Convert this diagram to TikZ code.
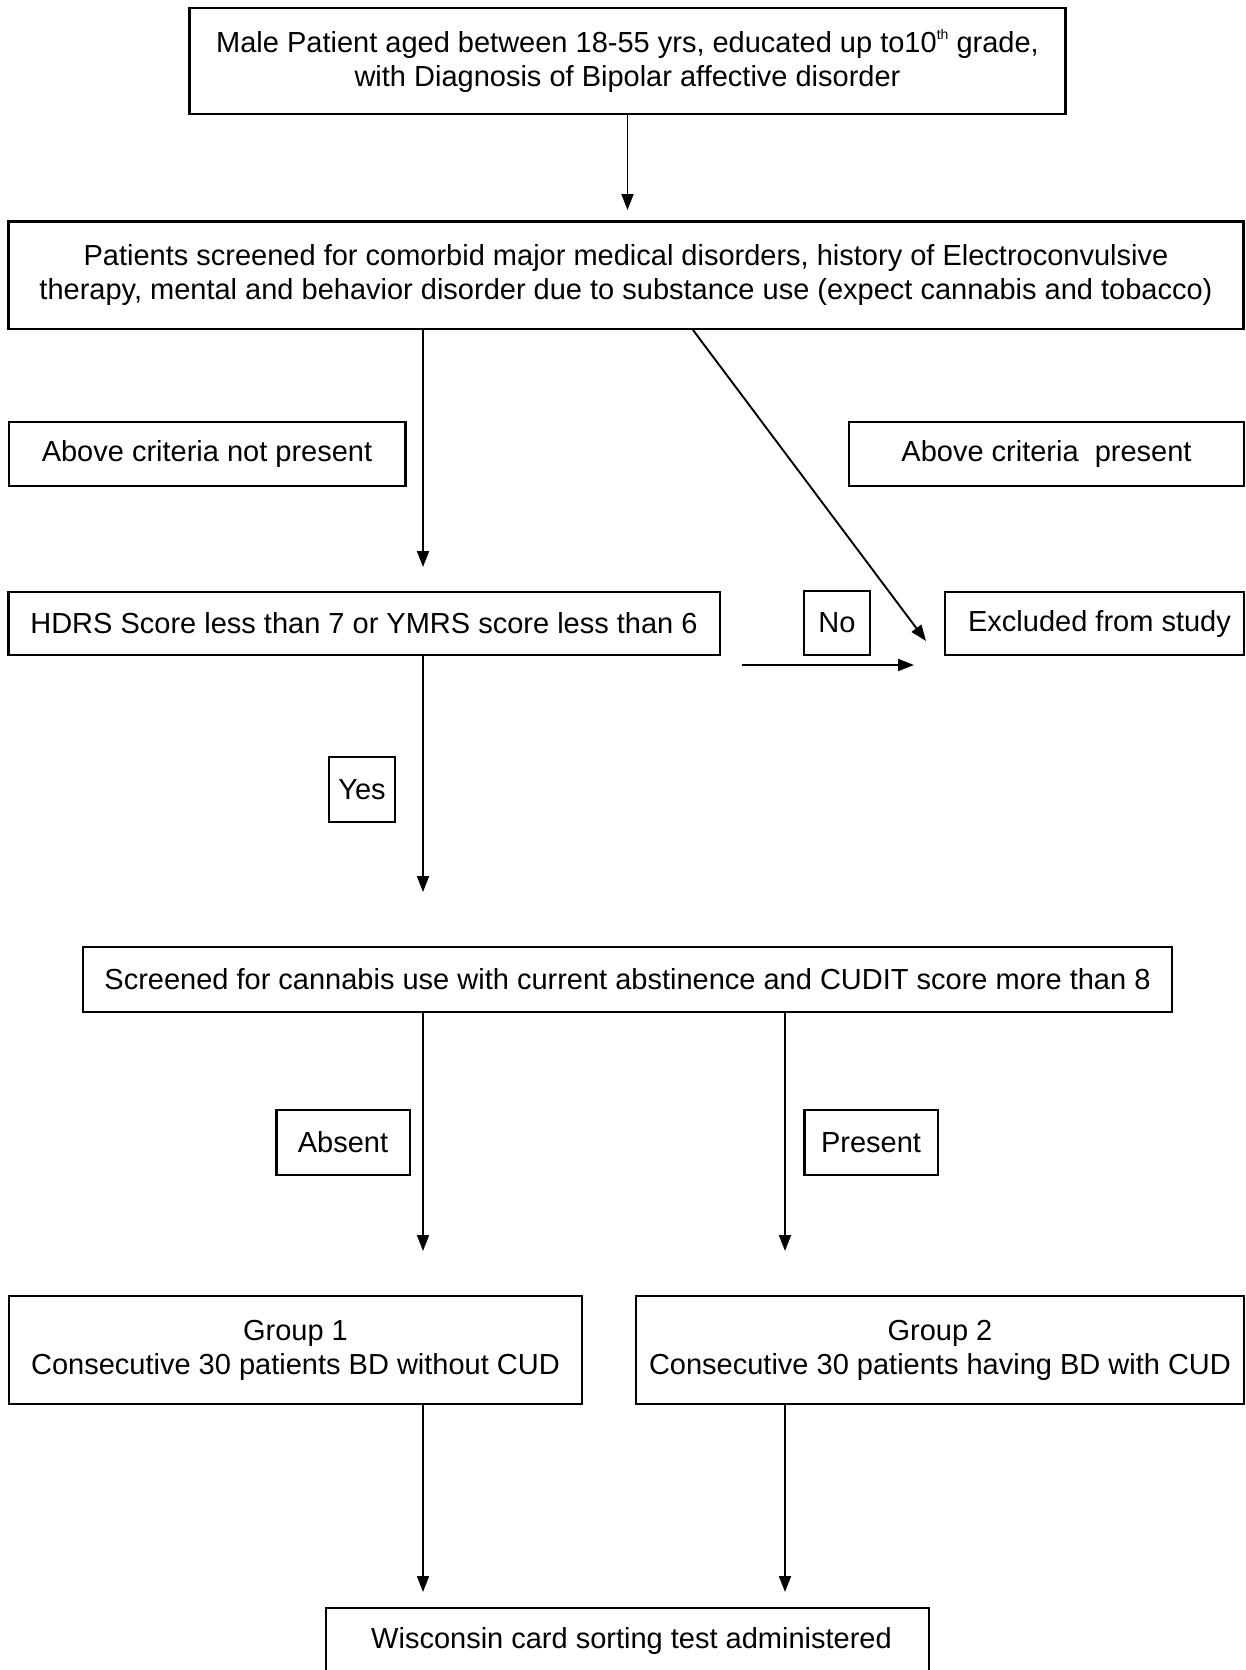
\documentclass[tikz,border=0pt]{standalone}
\usepackage{fontspec}
\setmainfont{Liberation Sans}
\usetikzlibrary{arrows.meta}
\begin{document}
\begin{tikzpicture}[x=1pt,y=-1pt,
  box/.style={draw, line width=2.5pt, rectangle, inner sep=0pt, align=center,
    font=\fontsize{29}{34}\selectfont},
  arr/.style={line width=1.9pt, -{Triangle[length=16pt,width=12pt]}}]
\useasboundingbox (0,0) rectangle (1246,1670);
\fill[white] (0,0) rectangle (1246,1670);

\node[box, minimum width=876pt, minimum height=106pt] (b1) at (627.5,61)
  {Male Patient aged between 18-55 yrs, educated up to10\raisebox{13pt}{\fontsize{14}{14}\selectfont th} grade,\\with Diagnosis of Bipolar affective disorder};
\node[box, minimum width=1235pt, minimum height=107.5pt] (b2) at (626,275)
  {Patients screened for comorbid major medical disorders, history of Electroconvulsive\\therapy, mental and behavior disorder due to substance use (expect cannabis and tobacco)};
\node[box, minimum width=396.5pt, minimum height=64pt] (np) at (207,454) {Above criteria not present};
\node[box, minimum width=395pt, minimum height=64pt] (pr) at (1046.5,454) {Above criteria\ \ present};
\node[box, minimum width=711.5pt, minimum height=63pt] (hd) at (364,623.5) {HDRS Score less than 7 or YMRS score less than 6};
\node[box, minimum width=66pt, minimum height=64pt] (no) at (837,623) {No};
\node[box, minimum width=299pt, minimum height=63pt] (ex) at (1094.5,623.5) {\hspace*{10pt}Excluded from study};
\node[box, minimum width=66pt, minimum height=65pt] (yes) at (362,789.5) {Yes};
\node[box, minimum width=1089pt, minimum height=65pt] (cu) at (627.5,979.5) {Screened for cannabis use with current abstinence and CUDIT score more than 8};
\node[box, minimum width=133.5pt, minimum height=65pt] (ab) at (343,1142.5) {Absent};
\node[box, minimum width=133.5pt, minimum height=65pt] (ps) at (871,1142.5) {Present};
\node[box, minimum width=573pt, minimum height=108pt] (g1) at (295.5,1350) {Group 1\\Consecutive 30 patients BD without CUD};
\node[box, minimum width=608pt, minimum height=108pt] (g2) at (940,1350) {Group 2\\Consecutive 30 patients having BD with CUD};
\node[box, minimum width=603pt, minimum height=66pt] (wc) at (627.5,1641) {\hspace*{8pt}Wisconsin card sorting test administered};

\coordinate (a1) at (627.5,210);
\coordinate (a2) at (423,567);
\coordinate (d0) at (693,329);
\coordinate (a3) at (926,641);
\coordinate (h0) at (742,665);
\coordinate (h1) at (914,665);
\coordinate (a4) at (423,892);
\coordinate (a5) at (423,1251);
\coordinate (a6) at (785,1251);
\coordinate (a7) at (423,1592);
\coordinate (a8) at (785,1592);

\draw[arr] (b1.south) -- (a1);
\draw[arr] (b2.south -| a2) -- (a2);
\draw[arr] (b2.south -| d0) -- (a3);
\draw[arr] (h0) -- (h1);
\draw[arr] (hd.south -| a4) -- (a4);
\draw[arr] (cu.south -| a5) -- (a5);
\draw[arr] (cu.south -| a6) -- (a6);
\draw[arr] (g1.south -| a7) -- (a7);
\draw[arr] (g2.south -| a8) -- (a8);
\end{tikzpicture}
\end{document}
